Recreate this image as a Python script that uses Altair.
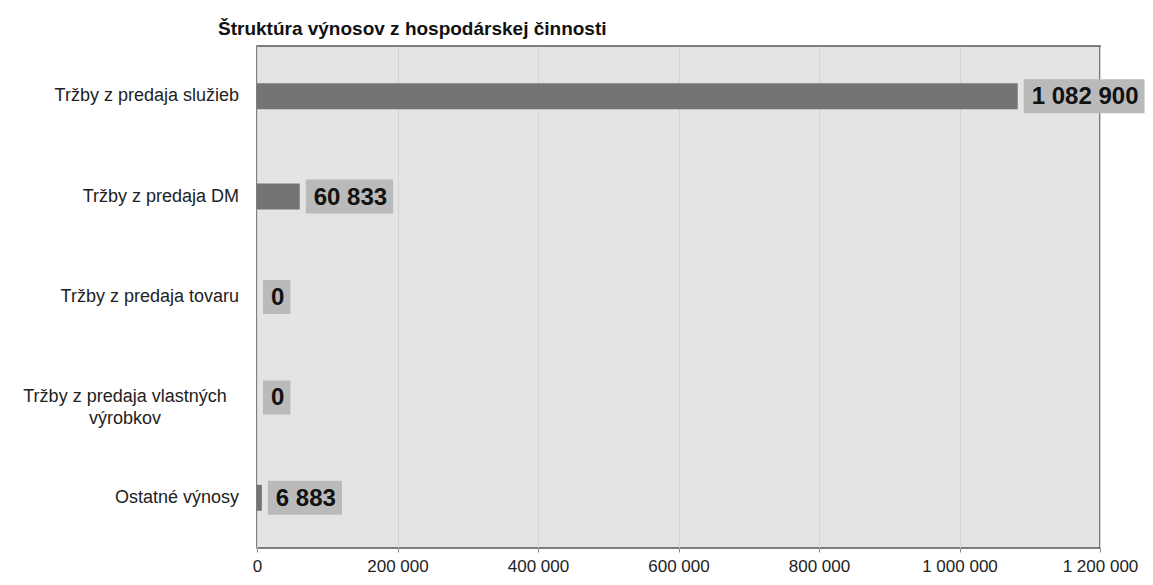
import altair as alt
import pandas as pd

categories = [
    "Tržby z predaja služieb",
    "Tržby z predaja DM",
    "Tržby z predaja tovaru",
    "Tržby z predaja vlastných\nvýrobkov",
    "Ostatné výnosy",
]
values = [1082900, 60833, 0, 0, 6883]
x_ticks = [0, 200000, 400000, 600000, 800000, 1000000, 1200000]
title_text = "Štruktúra výnosov z hospodárskej činnosti"

df = pd.DataFrame({"cat": categories, "v": values})

FONT = "Liberation Sans"
LAB_EXPR = "replace(format(datum.v, ',d'), /,/g, ' ')"

y = alt.Y("cat:N", sort=categories, axis=None,
          scale=alt.Scale(paddingInner=0, paddingOuter=0))
x_scale = alt.Scale(domain=[0, 1200000], nice=False)

base = alt.Chart(df)

bars = base.mark_bar(size=26, color="#747474").encode(
    x=alt.X("v:Q", scale=x_scale, title=None,
            axis=alt.Axis(values=x_ticks,
                          labelExpr="replace(format(datum.value, ',d'), /,/g, ' ')",
                          labelFont=FONT, labelFontSize=17, labelColor="#222222",
                          labelPadding=6, labelFlush=False, labelOverlap=False,
                          domain=False, tickSize=4, tickColor="#888888",
                          grid=True, gridColor="#d4d4d4", gridWidth=1)),
    y=y,
)

boxes = base.transform_calculate(
    lab=LAB_EXPR
).transform_calculate(
    nsp="length(datum.lab) - length(replace(datum.lab, / /g, ''))"
).transform_calculate(
    w="length(datum.lab) * 13.35 - datum.nsp * 6.67"
).mark_bar(size=34, color="#bababa", xOffset=6,
           x2Offset=alt.expr("20 + datum.w")).encode(
    x=alt.X("v:Q", scale=x_scale),
    x2=alt.X2("v"),
    y=y,
)

texts = base.transform_calculate(lab=LAB_EXPR).mark_text(
    align="left", baseline="middle", dx=14, dy=1, font=FONT, fontSize=24,
    fontWeight="bold", color="#111111"
).encode(x=alt.X("v:Q", scale=x_scale), y=y, text="lab:N")

ylab_single = base.transform_filter("indexof(datum.cat, '\\n') < 0").mark_text(
    align="right", baseline="middle", font=FONT, fontSize=18, color="#222222"
).encode(x=alt.value(-18), y=y, text="cat:N")

ylab_multi = base.transform_filter("indexof(datum.cat, '\\n') >= 0").mark_text(
    align="center", baseline="middle", lineBreak="\n", lineHeight=22,
    font=FONT, fontSize=18, color="#222222"
).encode(x=alt.value(-132), y=y, text="cat:N")

chart = alt.layer(bars, boxes, texts, ylab_single, ylab_multi).properties(
    width=843, height=502,
    title=alt.TitleParams(title_text, anchor="start", frame="group", dx=-39,
                          offset=7, font=FONT, fontSize=19, fontWeight="bold",
                          color="#111111"),
    autosize=alt.AutoSizeParams(type="none"),
    padding={"left": 249, "top": 38, "right": 45, "bottom": 31},
).configure(
    background="white"
).configure_view(
    fill="#e4e4e4", stroke="#555555", strokeWidth=1.5
)

chart.save("out.html", embed_options={"renderer": "svg", "actions": False})
